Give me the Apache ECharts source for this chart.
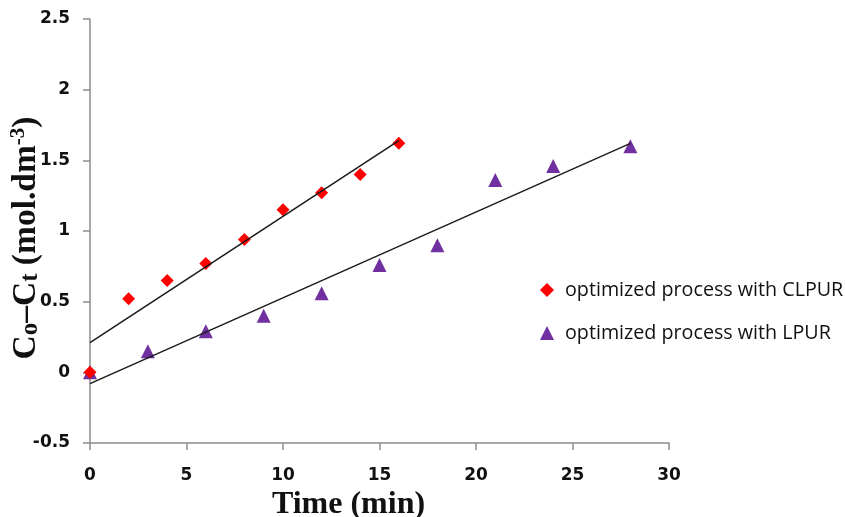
<!DOCTYPE html>
<html>
<head>
<meta charset="utf-8">
<script src="https://cdn.jsdelivr.net/npm/echarts@6/dist/echarts.min.js"></script>
<style>html,body{margin:0;padding:0;background:#fff}#c{width:845px;height:517px}</style>
</head>
<body>
<div id="c"></div>
<script>
// Data
const clpurTime = [0, 2, 4, 6, 8, 10, 12, 14, 16];
const clpurValue = [0, 0.52, 0.65, 0.77, 0.94, 1.15, 1.27, 1.40, 1.62];
const lpurTime = [0, 3, 6, 9, 12, 15, 18, 21, 24, 28];
const lpurValue = [0, 0.15, 0.29, 0.40, 0.56, 0.76, 0.90, 1.36, 1.46, 1.60];
// Linear trend line end points
const clpurTrendX = [0, 16];
const clpurTrendY = [0.21, 1.64];
const lpurTrendX = [0, 28];
const lpurTrendY = [-0.08, 1.62];
const xTicks = [0, 5, 10, 15, 20, 25, 30];
const yTicks = [-0.5, 0, 0.5, 1, 1.5, 2, 2.5];
const seriesNames = ['optimized process with CLPUR', 'optimized process with LPUR'];

const zip = (a, b) => a.map((v, i) => [v, b[i]]);

const chart = echarts.init(document.getElementById('c'));
const axisLine = { show: true, onZero: false, lineStyle: { color: '#8c8c8c', width: 1.5 } };
const tickFont = { color: '#111', fontFamily: 'DejaVu Sans', fontWeight: 'bold', fontSize: 17 };
chart.setOption({
  animation: false,
  backgroundColor: '#fff',
  grid: { left: 90, right: 176, top: 19, bottom: 74, containLabel: false, outerBoundsMode: 'none' },
  xAxis: {
    type: 'value', min: xTicks[0], max: xTicks[xTicks.length - 1], interval: 5,
    axisLine: axisLine,
    axisTick: { show: true, length: 7, inside: false, lineStyle: { color: '#8c8c8c', width: 1.5 } },
    splitLine: { show: false },
    axisLabel: Object.assign({ margin: 24 }, tickFont),
    name: 'Time (min)', nameLocation: 'middle', nameGap: 46,
    nameTextStyle: { fontFamily: 'Liberation Serif', fontWeight: 'bold', fontSize: 32, color: '#111', padding: [0, 62, 0, 0] }
  },
  yAxis: {
    type: 'value', min: yTicks[0], max: yTicks[yTicks.length - 1], interval: 0.5,
    axisLine: axisLine,
    axisTick: { show: true, length: 7, inside: false, lineStyle: { color: '#8c8c8c', width: 1.5 } },
    splitLine: { show: false },
    axisLabel: Object.assign({ margin: 20 }, tickFont),
    name: '{b|C}{s|o}{b|–C}{s|t}{b| (mol.dm}{sup|-3}{b|)}', nameLocation: 'middle', nameGap: 47, nameRotate: 90,
    nameMoveOverlap: false,
    nameTextStyle: {
      color: '#111', padding: [0, 14, 0, 0],
      rich: {
        b: { fontFamily: 'Liberation Serif', fontWeight: 'bold', fontSize: 33.5, color: '#111', verticalAlign: 'bottom', lineHeight: 35 },
        s: { fontFamily: 'Liberation Serif', fontWeight: 'bold', fontSize: 25, color: '#111', verticalAlign: 'bottom', lineHeight: 35 },
        sup: { fontFamily: 'Liberation Serif', fontWeight: 'bold', fontSize: 21, color: '#111', verticalAlign: 'top', lineHeight: 35 }
      }
    }
  },
  legend: {
    data: seriesNames,
    orient: 'vertical', left: 535, top: 275, itemGap: 23,
    itemWidth: 14, itemHeight: 14,
    textStyle: { fontFamily: 'Open Sans', fontSize: 19.7, color: '#111', padding: [0, 0, 0, 6] }
  },
  series: [
    {
      name: seriesNames[0], type: 'scatter', symbol: 'diamond', symbolSize: 13,
      itemStyle: { color: '#ff0000', opacity: 1 }, data: zip(clpurTime, clpurValue), z: 3
    },
    {
      name: seriesNames[1], type: 'scatter', symbol: 'triangle', symbolSize: 14,
      itemStyle: { color: '#7030a0', opacity: 1 }, data: zip(lpurTime, lpurValue), z: 2
    },
    {
      type: 'line', symbol: 'none', data: zip(clpurTrendX, clpurTrendY),
      lineStyle: { color: '#1a1a1a', width: 1.5 }, z: 4, silent: true
    },
    {
      type: 'line', symbol: 'none', data: zip(lpurTrendX, lpurTrendY),
      lineStyle: { color: '#1a1a1a', width: 1.5 }, z: 4, silent: true
    }
  ]
});
</script>
</body>
</html>
